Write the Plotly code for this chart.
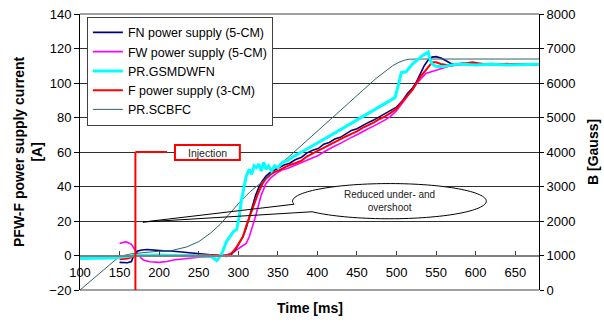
import numpy as np
import plotly.graph_objects as go

# ---------------- data ----------------
# FN power supply (5-CM)  [A]
t_fn = [150,160,165,168,172,178,185,195,205,215,225,235,245,255,265,275,285,290,296,301,306,310,313,316,319,322,326,330,335,340,350,358,365,372,380,387,394,401,408,415,422,429,436,443,450,457,464,471,478,485,492,500,508,514,520,525,530,535,540,545,550,556,562,568,575,583,592,600,610,620,630,640,650,660,670,680]
i_fn = [-4,-4.2,-3.5,0,2.5,3.2,3.5,3,2.7,2.6,2.2,2,1.5,1,0.5,0,-0.6,0,3,7,11,16,21,26,31,35,39.5,43,46,48,50.5,52.5,53.5,55.5,57,59.5,61,62,64.5,65.5,67.5,68.5,70.5,72.5,73.5,75.5,77,78.5,80.5,82,84,86,90,94,97,100.5,105,110,113.5,115,115.3,114.5,113,111.5,110.5,111,111.2,111,110.6,110.8,110.6,110.9,110.7,110.9,110.6,110.8]

# FW power supply (5-CM)  [A]
t_fw = [150,158,165,170,174,180,188,200,210,218,235,250,270,280,285,292,298,304,310,314,318,322,325,329,335,341,348,355,362,370,378,386,394,401,408,415,422,429,436,443,450,457,464,471,478,485,492,500,510,520,527,537,550,562,570,580,590,600,610,620,630,640,650,660,670,680]
i_fw = [7,8,6.5,3,0,-2.6,-3.6,-4,-3.5,-2.6,-1.6,-1,-0.7,-0.3,0.3,1.5,3.2,5,7,11,16.7,23,28.3,35,41.8,45,47.6,49.5,50.5,52,53.5,55,56.5,58,60,62,63.5,65,67,68.5,70,72,73.5,75,77,78.5,80.5,84,90,96,100.5,105.5,107.5,109,110.3,111,110.6,110.8,111,110.7,111,110.6,110.9,110.7,110.9,110.8]

# PR.GSMDWFN  [Gauss]
t_gs = [100,120,140,150,160,170,200,230,250,265,270,273,276,280,285,290,294,298,301,304,307,310,312,314,317,320,323,326,329,332,335,338,342,346,350,356,362,370,380,390,400,420,440,460,480,498,503,506,512,520,528,533,537,540,542,545,550,560,570,580,600,620,640,660,680]
b_gs = [915,920,925,950,985,1000,1015,1000,1000,975,900,850,950,1100,1400,1550,1700,1750,2100,2600,3000,3300,3400,3500,3350,3600,3550,3650,3450,3700,3500,3600,3450,3600,3550,3700,3750,3875,4000,4125,4260,4525,4790,5050,5325,5575,6000,6300,6325,6550,6700,6800,6850,6900,6700,6550,6475,6475,6525,6550,6525,6540,6525,6530,6540]

# F power supply (3-CM)  [A]
t_f = [150,160,168,175,190,210,230,250,270,280,289,293,298,302,306,310,313,316,319,322,325,328,331,335,340,346,352,358,365,372,380,387,394,401,408,415,422,429,436,443,450,457,464,471,478,485,492,500,505,512,520,525,530,537,545,550,556,563,570,577,583,590,596,603,610,620,630,640,650,660,670,680]
i_f = [-2.2,-1.8,-0.5,0,0.2,0,0.3,0,0.2,0,0.3,2,5,8,11,17,21,25,29,33,36,39,42,44.5,46.7,48.5,49.5,51,52.5,53.5,55,57.5,59.2,60.5,62.5,64,66,67.5,69,70.5,72,74,75.5,77,79,80.5,82.5,85,88,92,96,100,103.5,107.5,112,112,111,110.4,110,110.8,111.4,111.6,112,111.5,111,111.2,110.8,111.1,110.8,111,110.7,111]

# PR.SCBFC  [Gauss]
t_sc = [100,125,150,165,180,200,217,235,250,265,277,290,302,315,331,350,369,390,411,432,453,474,495,503,510,516,530,560,600,640,680]
b_sc = [0,500,975,1050,1090,1125,1150,1250,1400,1650,1900,2250,2550,2850,3150,3575,3970,4410,4840,5270,5710,6130,6500,6600,6660,6690,6695,6695,6695,6695,6695]

x_ticks = [100,150,200,250,300,350,400,450,500,550,600,650]
injection_t = 170

FONT = "Arial, Liberation Sans, sans-serif"

fig = go.Figure()
fig.add_trace(go.Scatter(x=t_sc, y=b_sc, yaxis="y2", mode="lines", name="PR.SCBFC",
                         line=dict(color="#2F6464", width=1), legendrank=5))
fig.add_trace(go.Scatter(x=t_gs, y=b_gs, yaxis="y2", mode="lines", name="PR.GSMDWFN",
                         line=dict(color="#00FFFF", width=3), legendrank=3))
fig.add_trace(go.Scatter(x=t_fw, y=i_fw, mode="lines", name="FW power supply (5-CM)",
                         line=dict(color="#FF00FF", width=1.6), legendrank=2))
fig.add_trace(go.Scatter(x=t_fn, y=i_fn, mode="lines", name="FN power supply (5-CM)",
                         line=dict(color="#000080", width=1.6), legendrank=1))
fig.add_trace(go.Scatter(x=t_f, y=i_f, mode="lines", name="F power supply (3-CM)",
                         line=dict(color="#FF0000", width=2), legendrank=4))

shapes = []
# frame top / bottom lines
shapes.append(dict(type="line", xref="paper", yref="paper", x0=0, x1=1, y0=1, y1=1,
                   line=dict(color="#808080", width=1.5), layer="below"))
shapes.append(dict(type="line", xref="paper", yref="paper", x0=0, x1=1, y0=0, y1=0,
                   line=dict(color="#808080", width=1.5), layer="below"))
# injection marker
shapes.append(dict(type="line", xref="x", yref="y", x0=injection_t, x1=injection_t, y0=-20, y1=60,
                   line=dict(color="#FF0000", width=2)))
shapes.append(dict(type="line", xref="x", yref="y", x0=injection_t, x1=210, y0=60, y1=60,
                   line=dict(color="#FF0000", width=2)))
shapes.append(dict(type="rect", xref="x", yref="y", x0=220, x1=302, y0=55.4, y1=64,
                   line=dict(color="#FF0000", width=2), fillcolor="white"))

# callout ellipse
cx, cy, rx, ry = 491, 31.5, 122.4, 10.2
tip = (179.5, 19.4)
th = np.radians(np.linspace(190, -143, 120))
ex = cx + rx * np.cos(th)
ey = cy + ry * np.sin(th)
th_full = np.radians(np.linspace(0, 360, 120))
fx = cx + rx * np.cos(th_full)
fy = cy + ry * np.sin(th_full)
fill_path = "M " + " L ".join(f"{a:.2f},{b:.3f}" for a, b in zip(fx, fy)) + " Z"
shapes.append(dict(type="path", xref="x", yref="y", path=fill_path,
                   fillcolor="white", line=dict(width=0)))
out_path = (f"M {tip[0]},{tip[1]} L " + " L ".join(f"{a:.2f},{b:.3f}" for a, b in zip(ex, ey))
            + f" L {tip[0]},{tip[1]}")
shapes.append(dict(type="path", xref="x", yref="y", path=out_path,
                   line=dict(color="black", width=1)))

annotations = [
    dict(text="Injection", x=261, y=59.7, xref="x", yref="y", showarrow=False,
         font=dict(family=FONT, size=10.5, color="#222")),
    dict(text="Reduced under- and<br>overshoot", x=cx, y=cy, xref="x", yref="y", showarrow=False,
         font=dict(family=FONT, size=10, color="#222")),
    dict(text="<b>Time [ms]</b>", x=0.5, y=-0.065, xref="paper", yref="paper", showarrow=False,
         yanchor="middle", font=dict(family=FONT, size=14, color="black")),
    dict(text="<b>PFW-F power supply current<br>[A]</b>", x=(28 - 80) / 459, y=0.5,
         xref="paper", yref="paper", xanchor="center", yanchor="middle",
         showarrow=False, textangle=-90, font=dict(family=FONT, size=14, color="black")),
    dict(text="<b>B [Gauss]</b>", x=(593 - 80) / 459, y=0.5, xref="paper", yref="paper",
         xanchor="center", yanchor="middle",
         showarrow=False, textangle=-90, font=dict(family=FONT, size=14, color="black")),
]

fig.update_layout(
    width=604, height=322,
    margin=dict(l=80, r=65, t=14, b=32, autoexpand=False),
    paper_bgcolor="white", plot_bgcolor="white",
    font=dict(family=FONT, size=13, color="black"),
    showlegend=True,
    legend=dict(x=0.015, y=0.99, xanchor="left", yanchor="top",
                bgcolor="white", bordercolor="#404040", borderwidth=1,
                font=dict(family=FONT, size=12.5), itemwidth=30, tracegroupgap=0),
    xaxis=dict(range=[100, 680], tickvals=x_ticks, anchor="free", position=0.125, automargin=False,
               showgrid=False, zeroline=False, showline=True, linecolor="#808080", linewidth=2,
               ticks="inside", ticklen=4, tickcolor="#404040", ticklabelstandoff=5,
               tickfont=dict(family=FONT, size=13)),
    yaxis=dict(range=[-20, 140], dtick=20, showgrid=True, gridcolor="#303030", gridwidth=1,
               zeroline=False, showline=True, linecolor="black", linewidth=1, automargin=False,
               ticks="outside", ticklen=5, tickcolor="black",
               tickfont=dict(family=FONT, size=13)),
    yaxis2=dict(range=[0, 8000], dtick=1000, overlaying="y", side="right", showgrid=False,
                zeroline=False, showline=True, linecolor="black", linewidth=1, automargin=False,
                ticks="outside", ticklen=4, tickcolor="black",
                tickfont=dict(family=FONT, size=13)),
    shapes=shapes,
    annotations=annotations,
)

fig.write_html("out.html", config={"displayModeBar": False},
               post_script="document.body.style.margin='0px';document.body.style.overflow='hidden';")
